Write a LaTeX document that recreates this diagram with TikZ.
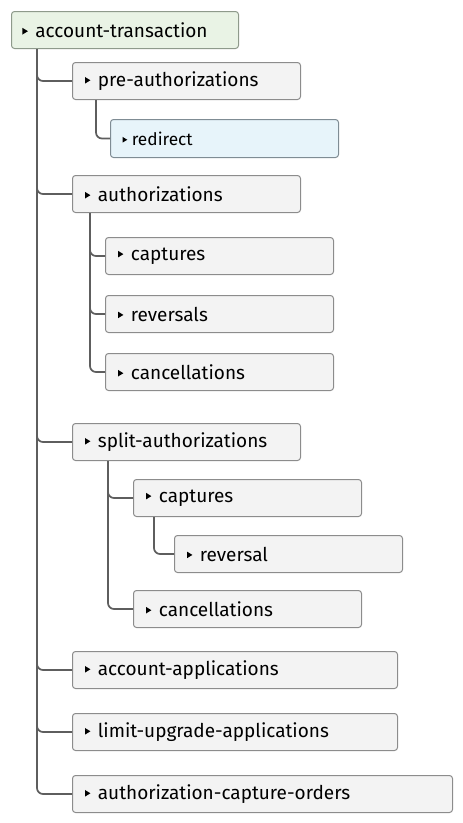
\documentclass[tikz,border=0pt]{standalone}
\usepackage{fontspec}
\setmainfont{Fira Sans}
\definecolor{boxfill}{HTML}{F3F3F3}
\definecolor{boxdraw}{HTML}{8C8C8C}
\definecolor{rootfill}{HTML}{E9F3E5}
\definecolor{rootdraw}{HTML}{8E9A8B}
\definecolor{redfill}{HTML}{E7F4FA}
\definecolor{reddraw}{HTML}{7F8C94}
\definecolor{linecol}{HTML}{5E5E5E}
\newcommand{\tri}{\tikz[baseline=0pt,sharp corners]\fill[black,sharp corners] (0pt,2.8pt) -- (0pt,9.4pt) -- (5.4pt,6.1pt) -- cycle;\hspace{7.5pt}}
\newcommand{\trismall}{\tikz[baseline=0pt,sharp corners]\fill[black,sharp corners] (0pt,2.5pt) -- (0pt,8.3pt) -- (4.8pt,5.4pt) -- cycle;\hspace{4.5pt}}
\begin{document}
\begin{tikzpicture}[x=1pt,y=-1pt,
  box/.style={draw=boxdraw, fill=boxfill, line width=1pt, rounded corners=3pt,
    anchor=north west, minimum height=37pt, inner xsep=12.5pt, inner ysep=0pt,
    align=left, font=\fontsize{19}{22}\selectfont},
  conn/.style={draw=linecol, line width=1.7pt, rounded corners=6pt}]
\useasboundingbox (0,0) rectangle (463,823);
\newcommand{\bx}[5][]{\node[box,#1, text width=#4-25pt] (#2) at (#3) {\tri #5};}
\node[box, fill=rootfill, draw=rootdraw, inner xsep=11pt, text width=205pt] (root) at (11,11) {\tri account-transaction};
\bx{pre}{72,62}{228}{pre-authorizations}
\node[box, fill=redfill, draw=reddraw, inner xsep=12pt, text width=204pt, minimum height=38pt,
  font=\fontsize{17.3}{19}\selectfont] (redir) at (110,119) {\trismall redirect};
\bx{auth}{72,175}{228}{authorizations}
\bx{acap}{105,237}{228}{captures}
\bx{arev}{105,295}{228}{reversals}
\bx{acan}{105,353}{228}{cancellations}
\bx{split}{72,423}{228}{split-authorizations}
\bx{scap}{133,479}{228}{captures}
\bx{srev}{174,535}{228}{reversal}
\bx{scan}{133,590}{228}{cancellations}
\bx{accapp}{72,651}{325}{account-applications}
\bx{limit}{72,713}{325}{limit-upgrade-applications}
\bx{aco}{72,775}{380}{authorization-capture-orders}
% connectors
\foreach \c in {pre,auth,split,accapp,limit,aco}
  \draw[conn] ([xshift=26pt]root.south west) |- (\c.west);
\draw[conn] ([xshift=24pt]pre.south west) |- (redir.west);
\foreach \c in {acap,arev,acan}
  \draw[conn] ([xshift=18pt]auth.south west) |- (\c.west);
\foreach \c in {scap,scan}
  \draw[conn] ([xshift=36pt]split.south west) |- (\c.west);
\draw[conn] ([xshift=21pt]scap.south west) |- (srev.west);
\end{tikzpicture}
\end{document}
